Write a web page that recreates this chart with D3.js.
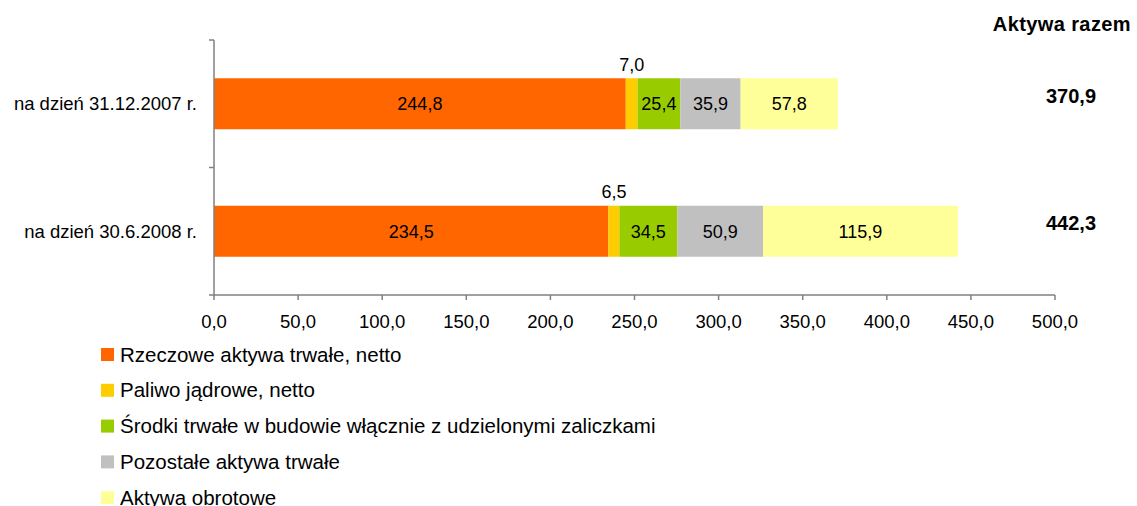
<!DOCTYPE html>
<html>
<head>
<meta charset="utf-8">
<script src="https://cdn.jsdelivr.net/npm/d3@7"></script>
<style>
  body { margin: 0; background: #fff; }
  svg text { font-family: "Liberation Sans", Arial, sans-serif; fill: #000; }
</style>
</head>
<body>
<svg id="chart" width="1137" height="506"></svg>
<script>
// data
var categories = ["na dzień 31.12.2007 r.", "na dzień 30.6.2008 r."];
var seriesNames = [
  "Rzeczowe aktywa trwałe, netto",
  "Paliwo jądrowe, netto",
  "Środki trwałe w budowie włącznie z udzielonymi zaliczkami",
  "Pozostałe aktywa trwałe",
  "Aktywa obrotowe"
];
var rzeczowe = [244.8, 234.5];
var paliwo = [7.0, 6.5];
var srodki = [25.4, 34.5];
var pozostale = [35.9, 50.9];
var obrotowe = [57.8, 115.9];
var totals = [370.9, 442.3];
var xTicks = [0, 50, 100, 150, 200, 250, 300, 350, 400, 450, 500];
var colors = ["#FF6600", "#FFCC00", "#99CC00", "#C0C0C0", "#FFFF99"];

var series = [rzeczowe, paliwo, srodki, pozostale, obrotowe];
var fmt = function(v) { return v.toFixed(1).replace(".", ","); };

var svg = d3.select("#chart");
var plotLeft = 214, plotRight = 1055, plotTop = 40, plotBottom = 295;

var x = d3.scaleLinear().domain([0, 500]).range([plotLeft, plotRight]);
var y = d3.scaleBand().domain(categories).range([plotTop, plotBottom]).paddingInner(0.6).paddingOuter(0.3);

// build stacked rows
var rows = categories.map(function(c, i) {
  var o = { cat: c };
  seriesNames.forEach(function(s, j) { o[s] = series[j][i]; });
  return o;
});
var stack = d3.stack().keys(seriesNames)(rows);

var layer = svg.selectAll("g.layer")
  .data(stack)
  .enter().append("g")
  .attr("class", "layer")
  .attr("fill", function(d, i) { return colors[i]; });

layer.selectAll("rect")
  .data(function(d) { return d; })
  .enter().append("rect")
  .attr("x", function(d) { return x(d[0]); })
  .attr("width", function(d) { return x(d[1]) - x(d[0]); })
  .attr("y", function(d) { return y(d.data.cat); })
  .attr("height", y.bandwidth());

// segment labels; the thin fuel segment gets its label above the bar
stack.forEach(function(s, si) {
  s.forEach(function(d) {
    var v = d[1] - d[0];
    var cx = (x(d[0]) + x(d[1])) / 2;
    var cy = y(d.data.cat) + y.bandwidth() / 2;
    svg.append("text")
      .attr("x", cx)
      .attr("y", si === 1 ? y(d.data.cat) - 14 : cy)
      .attr("dy", "0.35em")
      .attr("text-anchor", "middle")
      .style("font-size", "18px")
      .text(fmt(v));
  });
});

// axes
var axisColor = "#808080";
svg.append("line").attr("x1", plotLeft).attr("x2", plotRight).attr("y1", plotBottom).attr("y2", plotBottom)
  .attr("stroke", axisColor).attr("stroke-width", 1.5);
svg.append("line").attr("x1", plotLeft).attr("x2", plotLeft).attr("y1", plotTop).attr("y2", plotBottom)
  .attr("stroke", axisColor).attr("stroke-width", 1.5);

svg.selectAll("line.xt").data(xTicks).enter().append("line")
  .attr("x1", function(d) { return x(d); }).attr("x2", function(d) { return x(d); })
  .attr("y1", plotBottom).attr("y2", plotBottom + 5)
  .attr("stroke", axisColor).attr("stroke-width", 1.5);

svg.selectAll("text.xt").data(xTicks).enter().append("text")
  .attr("x", function(d) { return x(d); })
  .attr("y", plotBottom + 27)
  .attr("dy", "0.35em")
  .attr("text-anchor", "middle")
  .style("font-size", "18.5px")
  .text(fmt);

// y ticks at band boundaries
var yStep = (plotBottom - plotTop) / categories.length;
d3.range(categories.length + 1).forEach(function(i) {
  svg.append("line").attr("x1", plotLeft - 5).attr("x2", plotLeft)
    .attr("y1", plotTop + i * yStep).attr("y2", plotTop + i * yStep)
    .attr("stroke", axisColor).attr("stroke-width", 1.5);
});

svg.selectAll("text.cat").data(categories).enter().append("text")
  .attr("x", 197)
  .attr("y", function(d) { return y(d) + y.bandwidth() / 2; })
  .attr("dy", "0.35em")
  .attr("text-anchor", "end")
  .style("font-size", "18.5px")
  .text(function(d) { return d; });

// totals column
svg.append("text").attr("x", 1131).attr("y", 24).attr("dy", "0.35em")
  .attr("text-anchor", "end").style("font-size", "20px").style("font-weight", "bold")
  .style("letter-spacing", "0.4px")
  .text("Aktywa razem");

svg.selectAll("text.tot").data(totals).enter().append("text")
  .attr("x", 1071)
  .attr("y", function(d, i) { return y(categories[i]) + y.bandwidth() / 2 - 8; })
  .attr("dy", "0.35em")
  .attr("text-anchor", "middle")
  .style("font-size", "20px").style("font-weight", "bold")
  .text(fmt);

// legend
var legend = svg.selectAll("g.leg").data(seriesNames).enter().append("g")
  .attr("transform", function(d, i) { return "translate(101," + (354.5 + i * 35.8) + ")"; });
legend.append("rect").attr("x", 0).attr("y", -6.5).attr("width", 13).attr("height", 13)
  .attr("fill", function(d, i) { return colors[i]; });
legend.append("text").attr("x", 19).attr("y", 0).attr("dy", "0.35em")
  .style("font-size", "20.5px")
  .text(function(d) { return d; });
</script>
</body>
</html>
